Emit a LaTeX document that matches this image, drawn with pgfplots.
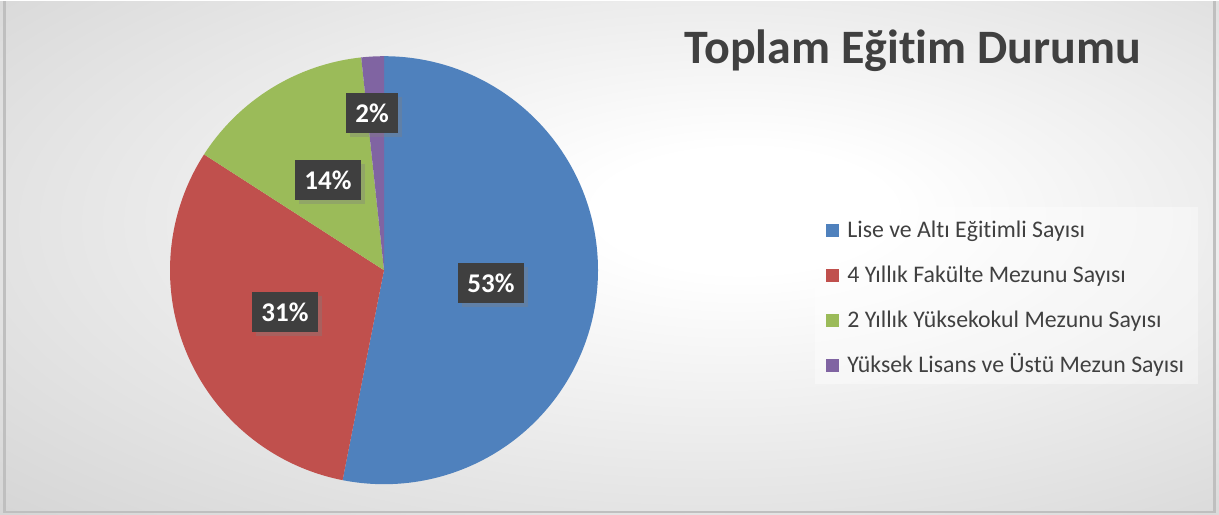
\documentclass[border=0pt]{standalone}
\usepackage{pgfplots}
\pgfplotsset{compat=1.18}
\usepackage{pgfplotstable}
\usepackage{fontspec}
\setmainfont[Ligatures=NoCommon]{Carlito}
\usetikzlibrary{shadows}
\definecolor{pieblue}{HTML}{4F81BD}
\definecolor{piered}{HTML}{C0504D}
\definecolor{piegreen}{HTML}{9BBB59}
\definecolor{piepurple}{HTML}{8064A2}
\definecolor{txt}{HTML}{404040}
\definecolor{lblbox}{HTML}{3F3F3F}
\pgfdeclareradialshading{bgshade}{\pgfpoint{6bp}{5bp}}{color(0bp)=(white); color(6bp)=(white); color(45bp)=(black!19); color(80bp)=(black!26)}
% shares (percent) of each slice, clockwise from top
\pgfplotstableread{
name   value label
lise   53.1  53
fak    31.0  31
yuk    14.2  14
yl     1.7   2
}\datatable
\begin{document}
\begin{tikzpicture}
\begin{axis}[
  scale only axis, width=609.5pt, height=256.5pt,
  xmin=0, xmax=1219, ymin=0, ymax=513,
  axis lines=none, clip=false,
]
% background
\shade[shading=bgshade] (axis cs:0,0) rectangle (axis cs:1219,513);
\draw[black!25, line width=1.2pt] (axis cs:4.5,513) -- (axis cs:4.5,2) -- (axis cs:1214.5,2) -- (axis cs:1214.5,513);
% pie (values in percent, 3.6 degrees per percent)
\fill[pieblue]   (axis cs:384,244) -- ++(90:107pt) arc[start angle=90, end angle={90-53.1*3.6}, radius=107pt] -- cycle;
\fill[piered]    (axis cs:384,244) -- ++({90-53.1*3.6}:107pt) arc[start angle={90-53.1*3.6}, end angle={90-84.1*3.6}, radius=107pt] -- cycle;
\fill[piegreen]  (axis cs:384,244) -- ++({90-84.1*3.6}:107pt) arc[start angle={90-84.1*3.6}, end angle={90-98.3*3.6}, radius=107pt] -- cycle;
\fill[piepurple] (axis cs:384,244) -- ++({90-98.3*3.6}:107pt) arc[start angle={90-98.3*3.6}, end angle={90-100*3.6}, radius=107pt] -- cycle;
% data labels
\tikzset{lbl/.style={fill=lblbox, text=white, font=\fontsize{13.5}{15}\selectfont\bfseries, inner xsep=4.5pt, minimum height=20pt, drop shadow={opacity=0.35, shadow xshift=2pt, shadow yshift=-2pt}}}
\node[lbl] at (axis cs:491,231) {53\%};
\node[lbl] at (axis cs:285,202) {31\%};
\node[lbl] at (axis cs:328,334) {14\%};
\node[lbl] at (axis cs:372,401) {2\%};
% title
\node[anchor=base, text=txt, font=\fontsize{24}{28}\selectfont\bfseries] at (axis cs:913,451) {Toplam Eğitim Durumu};
% legend
\fill[white, opacity=0.4] (axis cs:815,130) rectangle (axis cs:1198,307);
\fill[pieblue]   (axis cs:826,277) rectangle (axis cs:839,290);
\fill[piered]    (axis cs:826,232) rectangle (axis cs:839,245);
\fill[piegreen]  (axis cs:826,187) rectangle (axis cs:839,200);
\fill[piepurple] (axis cs:826,142) rectangle (axis cs:839,155);
\tikzset{leg/.style={anchor=base west, text=txt, font=\fontsize{11.9}{14}\selectfont, inner sep=0pt}}
\node[leg] at (axis cs:847,277) {Lise ve Altı Eğitimli Sayısı};
\node[leg] at (axis cs:847,232) {4 Yıllık Fakülte Mezunu Sayısı};
\node[leg] at (axis cs:847,187) {2 Yıllık Yüksekokul Mezunu Sayısı};
\node[leg] at (axis cs:847,142) {Yüksek Lisans ve Üstü Mezun Sayısı};
\end{axis}
\end{tikzpicture}
\end{document}
